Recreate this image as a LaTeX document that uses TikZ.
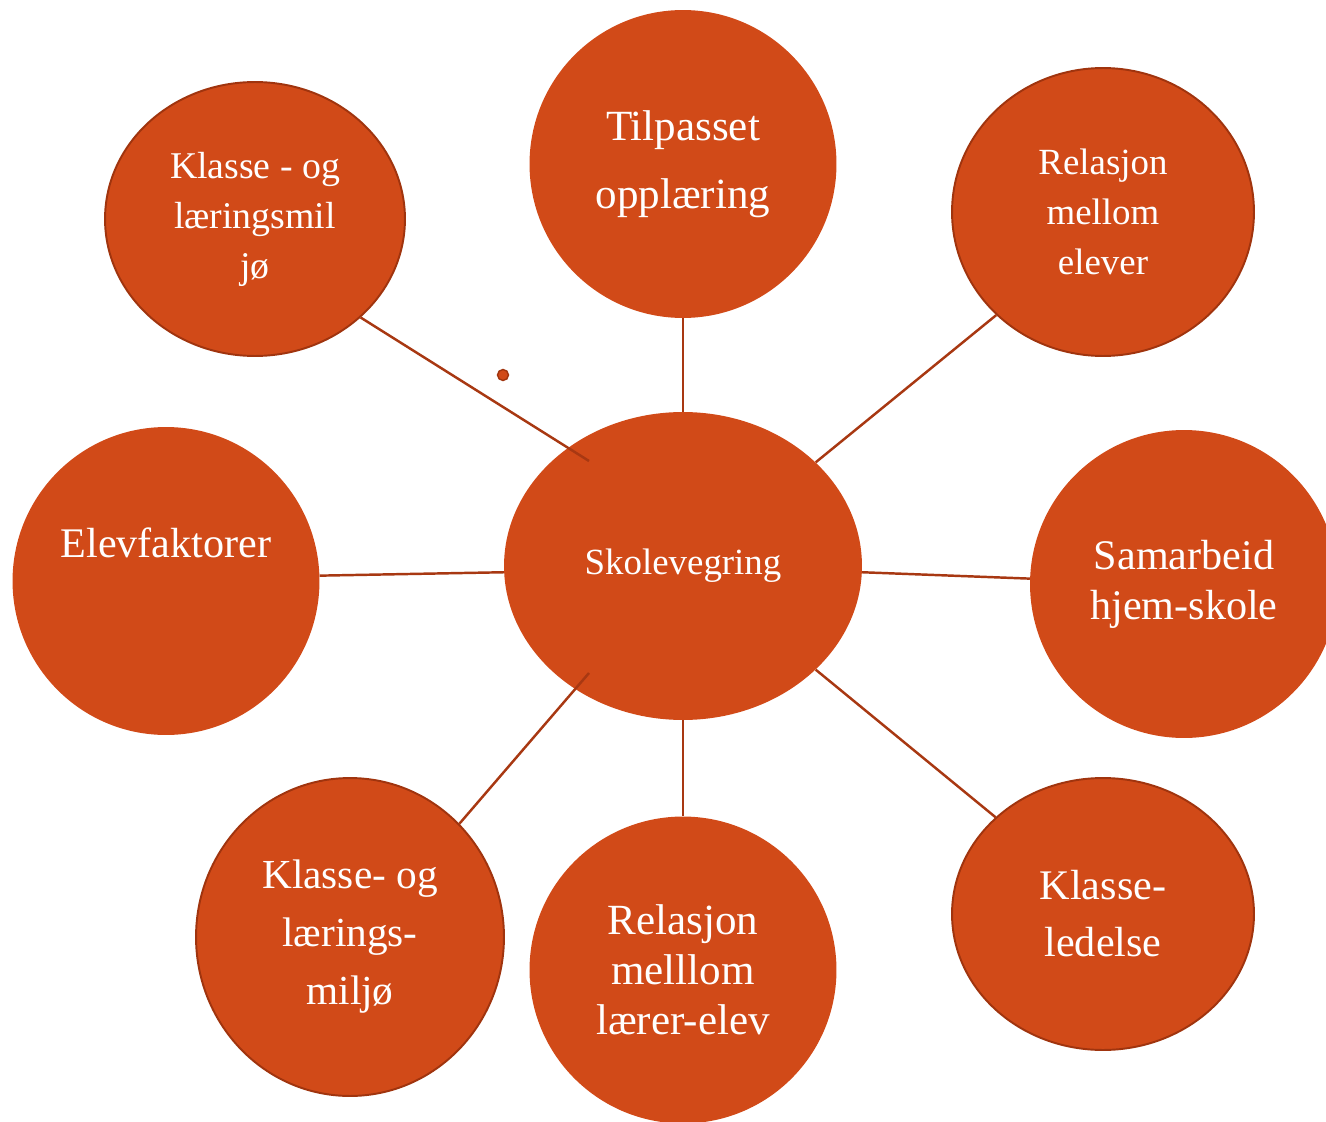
\documentclass[tikz,border=0pt]{standalone}
\usepackage{fontspec}
\setmainfont{Liberation Serif}
\usetikzlibrary{shapes.geometric}

\definecolor{skolefill}{RGB}{209,74,24}
\definecolor{skolerim}{RGB}{160,52,14}
\definecolor{skoleline}{RGB}{168,56,18}

\tikzset{
  bubble/.style={ellipse, fill=skolefill, inner sep=0pt, text=white, align=center},
  rimmed/.style={bubble, draw=skolerim, line width=1.1pt},
  spoke/.style={draw=skoleline, line width=1.4pt}
}

\begin{document}
\begin{tikzpicture}[x=0.02cm, y=-0.02cm]

\clip (0,0) rectangle (1326,1122);

% Centre
\node[bubble, minimum width=7.16cm, minimum height=6.16cm,
  font=\fontsize{21}{28}\selectfont] (C) at (683,566)
{Skolevegring};

% Outer circles
\node[rimmed, minimum width=6.0cm, minimum height=5.48cm,
  font=\fontsize{21.5}{28.5}\selectfont] (KL) at (255,219)
{Klasse - og\\læringsmil\\jø};

\node[bubble, minimum width=6.14cm, minimum height=6.16cm,
  font=\fontsize{24.5}{38.7}\selectfont] (TP) at (683,164)
{Tilpasset\\opplæring};

\node[rimmed, minimum width=6.04cm, minimum height=5.76cm,
  font=\fontsize{21}{28.5}\selectfont] (RE) at (1103,212)
{Relasjon\\mellom\\elever};

\node[bubble, minimum width=6.16cm, minimum height=6.16cm,
  font=\fontsize{24}{28.5}\selectfont] (SH) at (1184,584)
{Samarbeid\\hjem-skole};

\node[rimmed, minimum width=6.04cm, minimum height=5.44cm,
  font=\fontsize{24}{32.5}\selectfont] (KLL) at (1103,914)
{Klasse-\\ledelse};

\node[bubble, minimum width=6.14cm, minimum height=6.14cm,
  font=\fontsize{24.5}{28.5}\selectfont] (RL) at (683,970)
{Relasjon\\melllom\\lærer-elev};

\node[rimmed, minimum width=6.16cm, minimum height=6.36cm,
  font=\fontsize{23.5}{33}\selectfont] (KM) at (350,937)
{Klasse- og\\lærings-\\miljø};

\node[bubble, minimum width=6.14cm, minimum height=6.16cm,
  font=\fontsize{24}{28.5}\selectfont, text depth=1.52cm] (EF) at (166,581)
{Elevfaktorer};

% Loose dot
\node[circle, fill=skolefill, draw=skolerim, line width=0.8pt,
  inner sep=0pt, minimum size=0.22cm] (dot) at (503,375) {};

% Spoke ends inside the centre
\coordinate (KLin) at (589,461);
\coordinate (KMin) at (589,673);

% Spokes
\draw[spoke] (KL.-43) -- (KLin);
\draw[spoke] (TP.south) -- (C.north);
\draw[spoke] (RE.-136) -- (C.38);
\draw[spoke] (C.-2) -- (SH.178);
\draw[spoke] (C.-38) -- (KLL.138);
\draw[spoke] (C.south) -- (RL.north);
\draw[spoke] (KM.46) -- (KMin);
\draw[spoke] (EF.2) -- (C.182);

\end{tikzpicture}
\end{document}
